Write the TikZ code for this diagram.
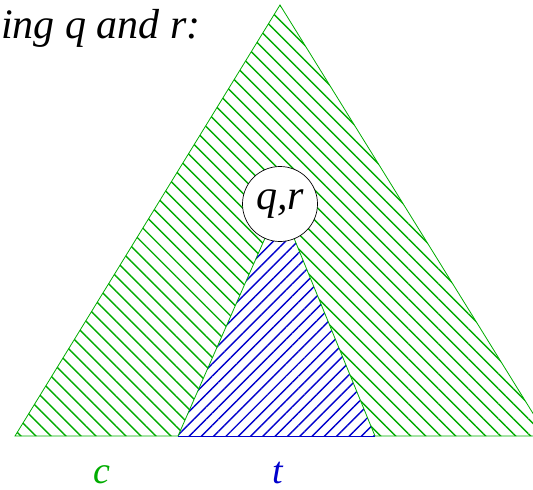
\documentclass[tikz,border=0pt]{standalone}
\usepackage{fontspec}
\setmainfont{Liberation Serif}[ItalicFont={Liberation Serif Italic}]
\newfontfamily\ttimesit{Liberation Serif Italic}
\usetikzlibrary{patterns.meta}
\definecolor{hgreen}{RGB}{0,172,0}
\definecolor{hblue}{RGB}{0,0,205}
\begin{document}
\begin{tikzpicture}[x=1pt,y=-1pt,
  lbl/.style={font=\ttimesit\fontsize{38}{42}\selectfont, inner sep=0pt},
  big/.style={font=\ttimesit\fontsize{42}{46}\selectfont, inner sep=0pt},
  ghatch/.style={pattern={Lines[angle=135,distance=10.6pt,line width=1.4pt]}, pattern color=hgreen},
  bhatch/.style={pattern={Lines[angle=45,distance=8.7pt,line width=1.4pt]}, pattern color=hblue}]
\useasboundingbox (0,0) rectangle (533,490);
\clip (0,0) rectangle (533,490);
\coordinate (A) at (280,5);
\coordinate (L) at (15,436);
\coordinate (R) at (547,436);
\coordinate (BL) at (178,436);
\coordinate (BR) at (375,436);
\coordinate (C) at (280,204);
% outer triangle
\fill[ghatch] (A) -- (L) -- (R) -- cycle;
\draw[hgreen, line width=0.8pt] (A) -- (L) -- (R) -- cycle;
% inner triangle
\fill[white] (C) -- (BL) -- (BR) -- cycle;
\fill[bhatch] (C) -- (BL) -- (BR) -- cycle;
\draw[hgreen, line width=0.8pt] (BL) -- (C) -- (BR);
\draw[hblue, line width=0.8pt] (BL) -- (BR);
% circle
\node[circle, draw=black, fill=white, line width=0.7pt, minimum size=75pt, inner sep=0pt, big] (qr) at (C) {q,r};
% labels
\node[big, anchor=base west] (title) at (1,38) {ing q and r:};
\node[lbl, text=hgreen, anchor=base] (c) at (102,483) {c};
\node[lbl, text=hblue, anchor=base] (t) at (278,483) {t};
\end{tikzpicture}
\end{document}
